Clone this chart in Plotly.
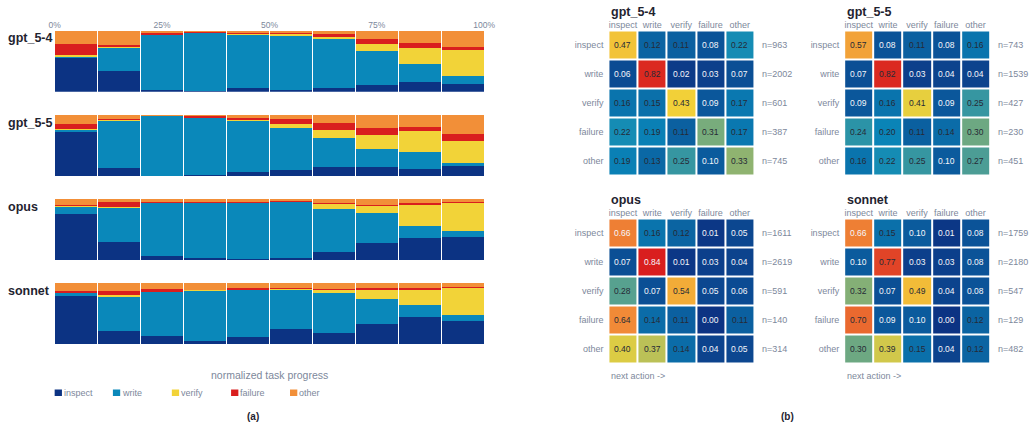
import plotly.graph_objects as go

W, H = 1029, 425
XOFF, XSPAN = 8.0, 1013.0   # observed horizontal placement of the figure in the page photo
FONT = "Liberation Sans, Arial, sans-serif"
GREY = "#7d889b"
DARK = "#1f2330"

# ---------------- data: left panel (stacked shares per progress bin) -------------
bins = [5, 15, 25, 35, 45, 55, 65, 75, 85, 95]
categories = ["inspect", "write", "verify", "failure", "other"]
cat_colors = ["#0c3383", "#0a88ba", "#f2d338", "#d91e1e", "#f28f38"]
models = ["gpt_5-4", "gpt_5-5", "opus", "sonnet"]

gpt54_inspect = [0.56, 0.34, 0.03, 0.015, 0.06, 0.03, 0.06, 0.11, 0.16, 0.12]
gpt54_write   = [0.01, 0.38, 0.90, 0.95, 0.87, 0.89, 0.80, 0.55, 0.30, 0.13]
gpt54_verify  = [0.03, 0.02, 0.005, 0.0, 0.01, 0.03, 0.03, 0.13, 0.25, 0.43]
gpt54_failure = [0.19, 0.03, 0.03, 0.015, 0.03, 0.01, 0.055, 0.07, 0.09, 0.05]
gpt54_other   = [0.21, 0.23, 0.04, 0.015, 0.03, 0.04, 0.05, 0.14, 0.20, 0.27]

gpt55_inspect = [0.73, 0.13, 0.005, 0.02, 0.065, 0.10, 0.15, 0.15, 0.12, 0.17]
gpt55_write   = [0.03, 0.77, 0.98, 0.93, 0.84, 0.69, 0.48, 0.29, 0.27, 0.055]
gpt55_verify  = [0.01, 0.015, 0.0, 0.0, 0.01, 0.065, 0.125, 0.24, 0.35, 0.35]
gpt55_failure = [0.09, 0.015, 0.0, 0.03, 0.04, 0.075, 0.115, 0.10, 0.065, 0.11]
gpt55_other   = [0.14, 0.07, 0.015, 0.02, 0.05, 0.065, 0.13, 0.22, 0.19, 0.315]

opus_inspect = [0.76, 0.30, 0.065, 0.04, 0.02, 0.04, 0.135, 0.28, 0.36, 0.38]
opus_write   = [0.11, 0.55, 0.87, 0.89, 0.92, 0.92, 0.70, 0.49, 0.20, 0.09]
opus_verify  = [0.02, 0.015, 0.0, 0.0, 0.0, 0.0, 0.08, 0.11, 0.34, 0.46]
opus_failure = [0.01, 0.09, 0.02, 0.015, 0.005, 0.005, 0.015, 0.02, 0.03, 0.015]
opus_other   = [0.10, 0.045, 0.045, 0.055, 0.055, 0.04, 0.065, 0.10, 0.07, 0.055]

sonnet_inspect = [0.78, 0.22, 0.14, 0.06, 0.115, 0.25, 0.18, 0.33, 0.44, 0.385]
sonnet_write   = [0.05, 0.55, 0.72, 0.815, 0.76, 0.635, 0.66, 0.41, 0.21, 0.10]
sonnet_verify  = [0.01, 0.03, 0.005, 0.01, 0.01, 0.01, 0.05, 0.135, 0.235, 0.44]
sonnet_failure = [0.025, 0.065, 0.04, 0.005, 0.03, 0.02, 0.02, 0.04, 0.03, 0.015]
sonnet_other   = [0.135, 0.135, 0.10, 0.11, 0.08, 0.08, 0.09, 0.08, 0.09, 0.06]

progress_ticks = [0, 25, 50, 75, 100]
progress_ticktext = ["0%", "25%", "50%", "75%", "100%"]

# ---------------- data: right panel (transition matrices) -------------
actions = ["inspect", "write", "verify", "failure", "other"]

gpt54_trans = [[0.47, 0.12, 0.11, 0.08, 0.22],
               [0.06, 0.82, 0.02, 0.03, 0.07],
               [0.16, 0.15, 0.43, 0.09, 0.17],
               [0.22, 0.19, 0.11, 0.31, 0.17],
               [0.19, 0.13, 0.25, 0.10, 0.33]]
gpt54_n = [963, 2002, 601, 387, 745]

gpt55_trans = [[0.57, 0.08, 0.11, 0.08, 0.16],
               [0.07, 0.82, 0.03, 0.04, 0.04],
               [0.09, 0.16, 0.41, 0.09, 0.25],
               [0.24, 0.20, 0.11, 0.14, 0.30],
               [0.16, 0.22, 0.25, 0.10, 0.27]]
gpt55_n = [743, 1539, 427, 230, 451]

opus_trans = [[0.66, 0.16, 0.12, 0.01, 0.05],
              [0.07, 0.84, 0.01, 0.03, 0.04],
              [0.28, 0.07, 0.54, 0.05, 0.06],
              [0.64, 0.14, 0.11, 0.00, 0.11],
              [0.40, 0.37, 0.14, 0.04, 0.05]]
opus_n = [1611, 2619, 591, 140, 314]

sonnet_trans = [[0.66, 0.15, 0.10, 0.01, 0.08],
                [0.10, 0.77, 0.03, 0.03, 0.08],
                [0.32, 0.07, 0.49, 0.04, 0.08],
                [0.70, 0.09, 0.10, 0.00, 0.12],
                [0.30, 0.39, 0.15, 0.04, 0.12]]
sonnet_n = [1759, 2180, 547, 129, 482]

# ---------------- assemble ----------------
bar_data = {
    "gpt_5-4": [gpt54_inspect, gpt54_write, gpt54_verify, gpt54_failure, gpt54_other],
    "gpt_5-5": [gpt55_inspect, gpt55_write, gpt55_verify, gpt55_failure, gpt55_other],
    "opus": [opus_inspect, opus_write, opus_verify, opus_failure, opus_other],
    "sonnet": [sonnet_inspect, sonnet_write, sonnet_verify, sonnet_failure, sonnet_other],
}
heat_data = [("gpt_5-4", gpt54_trans, gpt54_n),
             ("gpt_5-5", gpt55_trans, gpt55_n),
             ("opus", opus_trans, opus_n),
             ("sonnet", sonnet_trans, sonnet_n)]


def px(x):
    return (x - XOFF) / XSPAN


def py(y):
    return 1 - y / H


fig = go.Figure()
layout = dict(width=W, height=H, margin=dict(l=0, r=0, t=0, b=0), autosize=False,
              paper_bgcolor="white", plot_bgcolor="white", barmode="stack",
              barnorm="fraction", bargap=0.03, showlegend=False,
              font=dict(family=FONT, color=GREY))
annotations = []
shapes = []

# left panel rows (pixel top/bottom)
bar_rows = [(30.7, 91.7), (115.0, 176.3), (199.0, 260.3), (283.0, 344.3)]
bx0, bx1 = 56.7, 486.7
for i, m in enumerate(models):
    k = i + 1
    xa = "x" if k == 1 else f"x{k}"
    ya = "y" if k == 1 else f"y{k}"
    for c, col, vals in zip(categories, cat_colors, bar_data[m]):
        fig.add_trace(go.Bar(x=bins, y=vals, name=c, marker=dict(color=col, line=dict(width=0)),
                             xaxis=xa, yaxis=ya, hoverinfo="skip"))
    t, b = bar_rows[i]
    layout[f"xaxis{k}" if k > 1 else "xaxis"] = dict(
        domain=[px(bx0), px(bx1)], range=[0, 100], anchor=ya,
        showgrid=False, zeroline=False, showline=False, ticks="",
        showticklabels=(k == 1), side="top", tickvals=progress_ticks,
        ticktext=progress_ticktext, tickfont=dict(size=8.5, color=GREY))
    layout[f"yaxis{k}" if k > 1 else "yaxis"] = dict(
        domain=[py(b), py(t)], range=[0, 1], anchor=xa, visible=False)
    annotations.append(dict(xref="paper", yref="paper", x=px(8), y=py(t - 1.5),
                            xanchor="left", yanchor="top", text=f"<b>{m}</b>",
                            showarrow=False, font=dict(size=12.5, color=DARK)))

annotations.append(dict(xref="paper", yref="paper", x=px((bx0 + bx1) / 2), y=py(375),
                        xanchor="center", yanchor="middle", text="normalized task progress",
                        showarrow=False, font=dict(size=10.5, color=GREY)))

# manual legend
leg_x = [56.7, 115.0, 174.0, 233.3, 292.3]
for lx, c, col in zip(leg_x, categories, cat_colors):
    shapes.append(dict(type="rect", xref="paper", yref="paper", x0=px(lx), x1=px(lx + 7.3),
                       y0=py(396), y1=py(389.5), fillcolor=col, line=dict(width=0)))
    annotations.append(dict(xref="paper", yref="paper", x=px(lx + 7.0), y=py(393),
                            xanchor="left", yanchor="middle", text=c, showarrow=False,
                            font=dict(size=9, color=GREY)))

annotations.append(dict(xref="paper", yref="paper", x=px(255), y=py(416), xanchor="center",
                        yanchor="middle", text="<b>(a)</b>", showarrow=False,
                        font=dict(size=10, color=DARK)))
annotations.append(dict(xref="paper", yref="paper", x=px(790), y=py(416), xanchor="center",
                        yanchor="middle", text="<b>(b)</b>", showarrow=False,
                        font=dict(size=10, color=DARK)))

# right panel heatmaps
heat_pos = [(611.0, 757.0, 30.5, 175.8), (847.0, 993.0, 30.5, 175.8),
            (611.0, 757.0, 218.5, 363.8), (847.0, 993.0, 218.5, 363.8)]
light_text_values = {0.66, 0.84}
for j, (name, mat, ns) in enumerate(heat_data):
    k = 5 + j
    xa, ya = f"x{k}", f"y{k}"
    x0, x1, y0, y1 = heat_pos[j]
    fig.add_trace(go.Heatmap(z=mat, x=actions, y=actions, colorscale="Portland",
                             zmin=0, zmax=0.84, xgap=2, ygap=2, showscale=False,
                             xaxis=xa, yaxis=ya, hoverinfo="skip"))
    layout[f"xaxis{k}"] = dict(domain=[px(x0), px(x1)], anchor=ya, side="top",
                               showgrid=False, zeroline=False, showline=False, ticks="",
                               tickfont=dict(size=9, color=GREY), fixedrange=True)
    layout[f"yaxis{k}"] = dict(domain=[py(y1), py(y0)], anchor=xa, autorange="reversed",
                               showgrid=False, zeroline=False, showline=False, ticks="",
                               tickfont=dict(size=9, color=GREY), ticklabelstandoff=4)
    for r, row in enumerate(mat):
        for c, v in enumerate(row):
            tc = "#f4f6fa" if (v <= 0.10 or v in light_text_values) else "#262a36"
            annotations.append(dict(xref=xa, yref=ya, x=actions[c], y=actions[r],
                                    text=f"{v:.2f}", showarrow=False,
                                    font=dict(size=8.5, color=tc)))
        annotations.append(dict(xref="paper", yref=ya, x=px(x1 + 6), y=actions[r],
                                xanchor="left", text=f"n={ns[r]}", showarrow=False,
                                font=dict(size=9, color=GREY)))
    annotations.append(dict(xref="paper", yref="paper", x=px(x0 + 1), y=py(y0 - 19),
                            xanchor="left", yanchor="middle", text=f"<b>{name}</b>",
                            showarrow=False, font=dict(size=12.5, color=DARK)))
    if j >= 2:
        annotations.append(dict(xref="paper", yref="paper", x=px(x0 + 1), y=py(y1 + 12.5),
                                xanchor="left", yanchor="middle", text="next action ->",
                                showarrow=False, font=dict(size=9, color=GREY)))

layout["annotations"] = annotations
layout["shapes"] = shapes
fig.update_layout(**layout)

page_fix = ("document.documentElement.style.margin='0';document.body.style.margin='0';"
            "document.documentElement.style.overflow='hidden';document.body.style.overflow='hidden';")
fig.write_html("out.html", post_script=page_fix,
               config={"displayModeBar": False, "staticPlot": True})
